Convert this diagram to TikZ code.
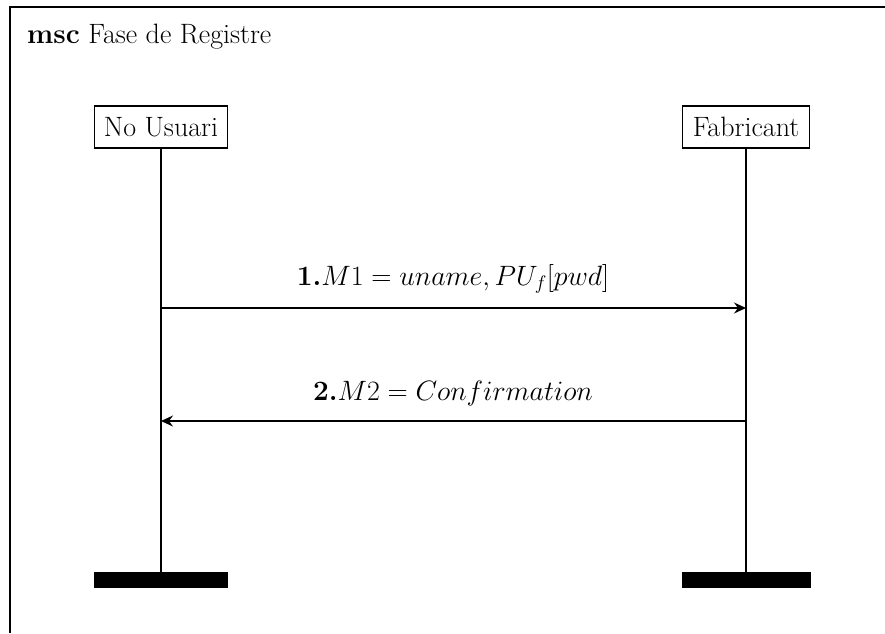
\documentclass[tikz,border=0pt]{standalone}
\usepackage{fix-cm}
\usepackage{fontspec}
\usepackage{amsmath}
\usetikzlibrary{arrows.meta}

\tikzset{
  instance/.style={draw,line width=1.2pt,minimum height=42pt,inner xsep=3pt,font=\fontsize{28}{33}\selectfont},
  lifeline/.style={line width=2.6pt},
  endbar/.style={fill=black,minimum width=134pt,minimum height=16pt,inner sep=0pt},
  msg/.style={line width=1.3pt,-{Stealth[length=12pt,width=11pt,inset=4pt]}},
  msglabel/.style={anchor=base,font=\fontsize{28}{33}\selectfont}
}

\begin{document}
\begin{tikzpicture}[x=1pt,y=-1pt]
	 \useasboundingbox (0,0) rectangle (885,633);
	 % frame
	 \draw[line width=1.3pt] (10,633) -- (10,7) -- (885,7);
	 \node[anchor=base west,inner sep=0pt,font=\fontsize{28}{33}\selectfont] (title) at (27,43) {\textbf{msc} Fase de Registre};
	 % instances
	 \node[instance,minimum width=133pt] (usuari) at (161,127) {No Usuari};
	 \node[instance,minimum width=127pt] (fabricant) at (746,127) {Fabricant};
	 \node[endbar] (usuariend) at (161,580) {};
	 \node[endbar,minimum width=129pt] (fabricantend) at (746,580) {};
	 \draw[lifeline] (usuari) -- (usuariend);
	 \draw[lifeline] (fabricant) -- (fabricantend);
	 % messages
	 \coordinate (u1) at (usuari |- 0,308);
	 \coordinate (f1) at (fabricant |- 0,308);
	 \coordinate (u2) at (usuari |- 0,421);
	 \coordinate (f2) at (fabricant |- 0,421);
	 \draw[msg] (u1) -- (f1);
	 \draw[msg] (f2) -- (u2);
	 \node[msglabel] (m1) at (453,285) {$\textbf{1.}M1 = uname, PU_f[pwd]$};
	 \node[msglabel] (m2) at (453,400) {$\textbf{2.}M2 = Confirmation$};
\end{tikzpicture}
\end{document}
